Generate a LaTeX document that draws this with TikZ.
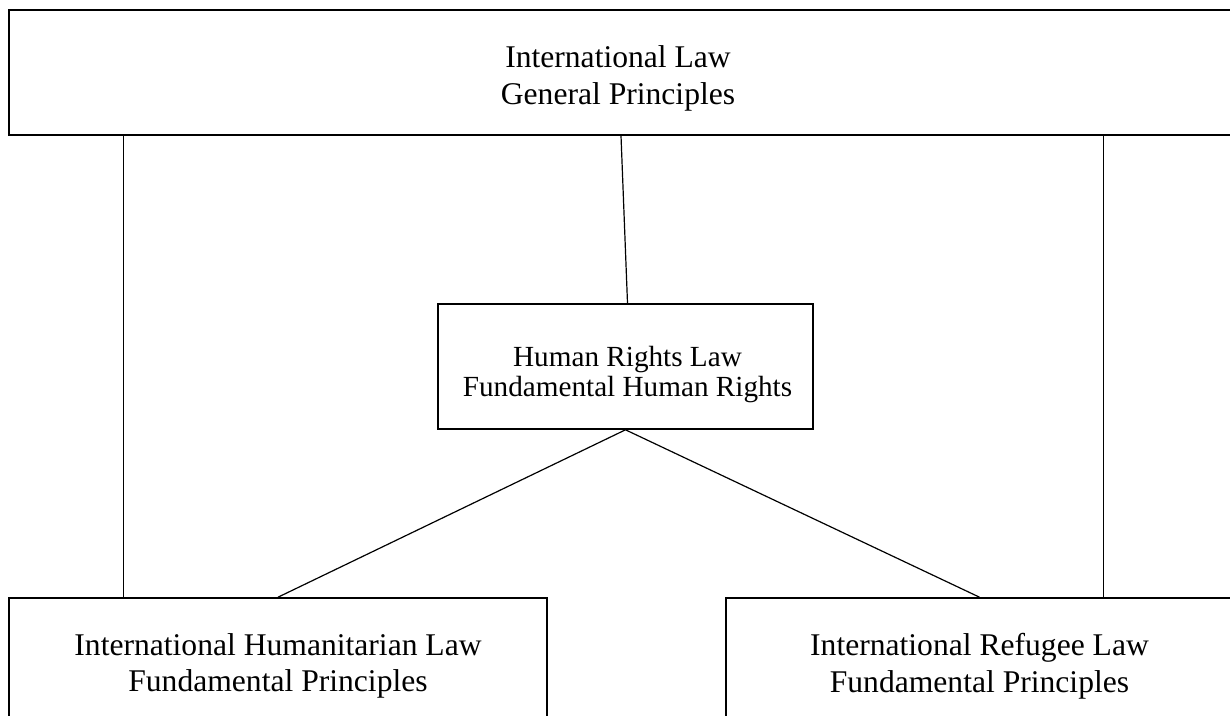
\documentclass[tikz,border=0pt]{standalone}
\usepackage{fontspec}
\setmainfont{Liberation Serif}
\usetikzlibrary{calc}
\usetikzlibrary{positioning}

\tikzset{
 lawbox/.style={draw=black, line width=1.6pt, rectangle, inner sep=0pt},
 lawtext/.style={align=center, inner sep=0pt, font=\fontsize{31.6}{36.5}\selectfont},
 hrtext/.style={align=center, inner sep=0pt, font=\fontsize{29.2}{30}\selectfont},
 link/.style={draw=black, line width=1.2pt}
}

\begin{document}
\begin{tikzpicture}[x=1pt, y=-1pt]
\useasboundingbox (0,0) rectangle (1230,715);
\clip (0,0) rectangle (1230,715);

% boxes
\node[lawbox, minimum width=1224, minimum height=125] (intlaw) at (621,72.5) {};
\node[lawbox, minimum width=375, minimum height=125] (hrl) at (625.5,366.5) {};
\node[lawbox, minimum width=538, minimum height=125] (ihl) at (278,660.5) {};
\node[lawbox, minimum width=507, minimum height=125] (irl) at (979.5,660.5) {};

% texts
\node[lawtext] (intlawtxt) at ([xshift=-3,yshift=-6]intlaw.center) {International Law\\General Principles};
\node[hrtext] (hrltxt) at ([xshift=2,yshift=-8]hrl.center) {Human Rights Law\\Fundamental Human Rights};
\node[lawtext] (ihltxt) at ([yshift=-5.5]ihl.center) {International Humanitarian Law\\Fundamental Principles};
\node[lawtext] (irltxt) at ([yshift=-5.5]irl.center) {International Refugee Law\\Fundamental Principles};

% connectors
\draw[link] (intlaw.south) -- ([xshift=2]hrl.north);
\foreach \b in {ihl,irl} {
 \draw[link] (hrl.south) -- (\b.north);
}
\draw[link] ([xshift=115]ihl.north west) -- ([xshift=115]ihl.north west |- intlaw.south);
\draw[link] ([xshift=-130]irl.north east) -- ([xshift=-130]irl.north east |- intlaw.south);
\end{tikzpicture}
\end{document}
